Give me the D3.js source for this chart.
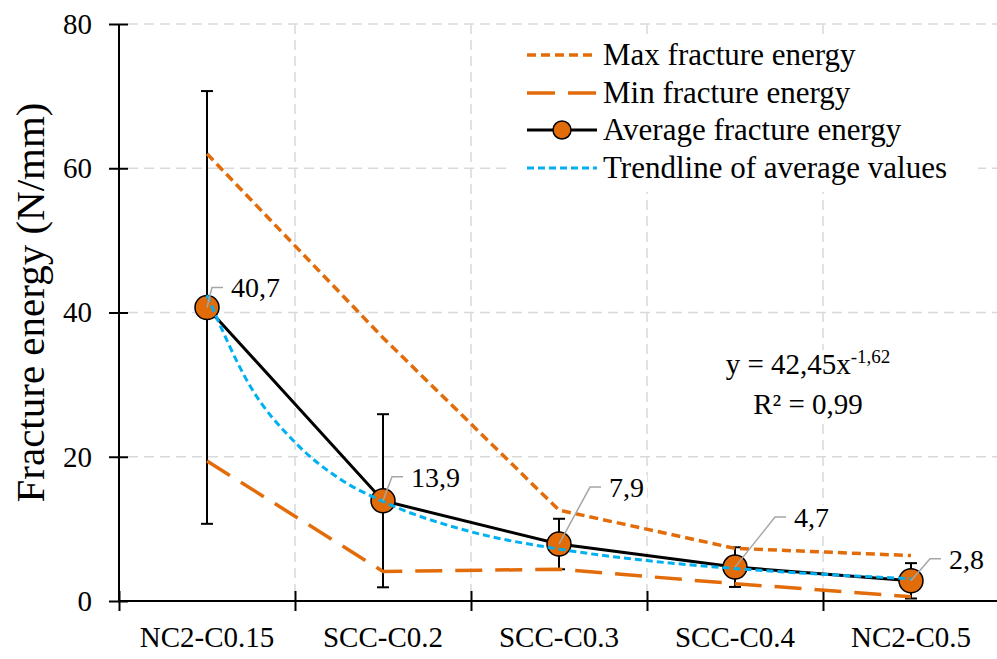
<html>
<head>
    <meta charset="UTF-8">
    <style>
        body {
            margin: 0;
            padding: 0;
            background-color: #fff;
        }
        .grid line {
            stroke: #d9d9d9;
            stroke-width: 1.5;
            stroke-dasharray: 10, 6;
        }
        .axis path, .axis line {
            stroke: #000;
            stroke-width: 2;
        }
    </style>
</head>
<body>
    <svg id="s" width="997" height="659" style="display:block">
        <text id="ytitle" font-family="Liberation Serif" font-size="41" text-anchor="middle" transform="translate(44,302) rotate(-90)">Fracture energy (N/mm)</text>
    </svg>
    <script src="https://d3js.org/d3.v7.min.js"></script>
    <script>
        // values
        const categories = ["NC2-C0.15", "SCC-C0.2", "SCC-C0.3", "SCC-C0.4", "NC2-C0.5"];
        const avgValues = [40.7, 13.9, 7.9, 4.7, 2.8];
        const stdDev = [30.0, 12.0, 3.5, 2.75, 2.45];
        const maxValues = [62.0, 36.5, 12.6, 7.3, 6.3];
        const minValues = [19.4, 4.1, 4.4, 2.4, 0.6];
        const yTicks = [0, 20, 40, 60, 80];
        // trendline (power fit), position = category index
        const trendPos = [1, 1.25, 1.5, 1.75, 2, 2.5, 3, 3.5, 4, 4.5, 5];
        const trendValues = [42.4, 29.6, 22.0, 17.0, 13.8, 9.6, 7.2, 5.6, 4.5, 3.7, 3.1];
        const legendLabels = ["Max fracture energy", "Min fracture energy", "Average fracture energy", "Trendline of average values"];

        const orange = "#e36c0a";
        const blue = "#00b0f0";
        const font = size => `font-family: 'Liberation Serif', serif; font-size:${size}px`;

        const svg = d3.select("#s");

        const x = d3.scaleLinear().domain([0.5, 5.5]).range([119, 999]);
        const y = d3.scaleLinear().domain([0, 80]).range([601, 24]);
        const pos = i => x(i + 1);

        // gridlines
        const grid = svg.insert("g", "#ytitle").attr("class", "grid");
        grid.selectAll(".hg")
            .data(yTicks.filter(d => d > 0))
            .enter().append("line")
            .attr("x1", 128).attr("x2", 997)
            .attr("y1", d => y(d)).attr("y2", d => y(d));
        grid.selectAll(".vg")
            .data([1.5, 2.5, 3.5, 4.5])
            .enter().append("line")
            .attr("x1", d => x(d)).attr("x2", d => x(d))
            .attr("y1", y(80)).attr("y2", y(0));

        // axes
        const yAxis = svg.append("g")
            .attr("class", "axis")
            .attr("transform", `translate(${x(0.5)},0)`)
            .call(d3.axisLeft(y).tickValues(yTicks).tickSize(10).tickPadding(17));
        yAxis.attr("font-family", "Liberation Serif").attr("font-size", 29);
        yAxis.select(".domain").attr("d", `M0,${y(80)}V${y(0)}`);
        yAxis.selectAll(".tick line").attr("x1", -10).attr("x2", 9);
        yAxis.selectAll(".tick text").attr("style", font(29));

        const xAxis = svg.append("g")
            .attr("class", "axis")
            .attr("transform", `translate(0,${y(0)})`)
            .call(d3.axisBottom(x).tickValues([0.5, 1.5, 2.5, 3.5, 4.5, 5.5]).tickFormat(""));
        xAxis.select(".domain").attr("d", `M${x(0.5)},0H997`);
        xAxis.selectAll(".tick line").attr("y1", -10).attr("y2", 10);

        svg.append("g").selectAll("text")
            .data(categories)
            .enter().append("text")
            .attr("x", (d, i) => pos(i))
            .attr("y", 647)
            .attr("text-anchor", "middle")
            .attr("style", font(29))
            .text(d => d);

        d3.select("#ytitle").attr("transform", `translate(44,${y(40) - 10}) rotate(-90)`);

        const line = d3.line().x((d, i) => pos(i)).y(d => y(d));

        // error bars
        const eb = svg.append("g").attr("stroke", "#000").attr("stroke-width", 2);
        avgValues.forEach((v, i) => {
            const top = y(v + stdDev[i]), bot = y(v - stdDev[i]);
            eb.append("line").attr("x1", pos(i)).attr("x2", pos(i)).attr("y1", top).attr("y2", bot);
            eb.append("line").attr("x1", pos(i) - 6).attr("x2", pos(i) + 6).attr("y1", top).attr("y2", top);
            eb.append("line").attr("x1", pos(i) - 6).attr("x2", pos(i) + 6).attr("y1", bot).attr("y2", bot);
        });

        svg.append("path")
            .datum(maxValues)
            .attr("d", line)
            .attr("fill", "none")
            .attr("stroke", orange)
            .attr("stroke-width", 3.5)
            .attr("stroke-dasharray", "9,5");

        svg.append("path")
            .datum(minValues)
            .attr("d", line)
            .attr("fill", "none")
            .attr("stroke", orange)
            .attr("stroke-width", 3.5)
            .attr("stroke-dasharray", "27,13");

        svg.append("path")
            .datum(avgValues)
            .attr("d", line)
            .attr("fill", "none")
            .attr("stroke", "#000")
            .attr("stroke-width", 3);

        svg.append("g").selectAll("circle")
            .data(avgValues)
            .enter().append("circle")
            .attr("cx", (d, i) => pos(i))
            .attr("cy", d => y(d))
            .attr("r", 12)
            .attr("fill", orange)
            .attr("stroke", "#000")
            .attr("stroke-width", 1.5);

        const trendLine = d3.line()
            .x(d => x(d[0]))
            .y(d => y(d[1]))
            .curve(d3.curveMonotoneX);
        svg.append("path")
            .datum(trendPos.map((p, i) => [p, trendValues[i]]))
            .attr("d", trendLine)
            .attr("fill", "none")
            .attr("stroke", blue)
            .attr("stroke-width", 3)
            .attr("stroke-dasharray", "7,4");

        // data labels with leader lines (white box behind, width from char count)
        const labelOffsets = [[5, -20], [9, -24], [31, -57], [40, -50], [19, -22]];
        const labels = svg.append("g");
        avgValues.forEach((v, i) => {
            const px = pos(i), py = y(v);
            const ex = px + labelOffsets[i][0], ey = py + labelOffsets[i][1];
            const txt = String(v).replace(".", ",");
            const w = txt.replace(",", "").length * 14 + 7;
            labels.append("path")
                .attr("d", `M${px},${py}L${ex},${ey}H${ex + 11}`)
                .attr("fill", "none")
                .attr("stroke", "#a6a6a6")
                .attr("stroke-width", 1.5);
            labels.append("rect")
                .attr("x", ex + 16).attr("y", ey - 12)
                .attr("width", w + 6).attr("height", 26)
                .attr("fill", "#fff");
            labels.append("text")
                .attr("x", ex + 19)
                .attr("y", ey + 10)
                .attr("style", font(28))
                .text(txt);
        });

        // equation box
        const eq = svg.append("g");
        eq.append("rect")
            .attr("x", 712).attr("y", 350)
            .attr("width", 200).attr("height", 72)
            .attr("fill", "#fff");
        const eqText = eq.append("text")
            .attr("x", 808).attr("y", 374)
            .attr("text-anchor", "middle")
            .attr("style", font(29));
        eqText.append("tspan").text("y = 42,45x");
        eqText.append("tspan").attr("dy", -11).attr("style", "font-size:19px").text("-1,62");
        eq.append("text")
            .attr("x", 808).attr("y", 414)
            .attr("text-anchor", "middle")
            .attr("style", font(29))
            .text("R² = 0,99");

        // legend
        const legend = svg.append("g");
        legend.append("rect")
            .attr("x", 506).attr("y", 36)
            .attr("width", 472).attr("height", 156)
            .attr("fill", "#fff");
        const rowY = [55, 93, 130, 168];
        const styles = [
            {stroke: orange, dash: "9,5", w: 3.5},
            {stroke: orange, dash: "28,13", w: 3.5},
            {stroke: "#000", dash: null, w: 3},
            {stroke: blue, dash: "7,4", w: 3}
        ];
        legendLabels.forEach((label, i) => {
            legend.append("line")
                .attr("x1", 527).attr("x2", 597)
                .attr("y1", rowY[i]).attr("y2", rowY[i])
                .attr("stroke", styles[i].stroke)
                .attr("stroke-width", styles[i].w)
                .attr("stroke-dasharray", styles[i].dash);
            if (i === 2) {
                legend.append("circle")
                    .attr("cx", 562).attr("cy", rowY[i]).attr("r", 9)
                    .attr("fill", orange).attr("stroke", "#000").attr("stroke-width", 1.5);
            }
            legend.append("text")
                .attr("x", 603).attr("y", rowY[i] + 10)
                .attr("style", font(31))
                .text(label);
        });
    </script>
</body>
</html>
